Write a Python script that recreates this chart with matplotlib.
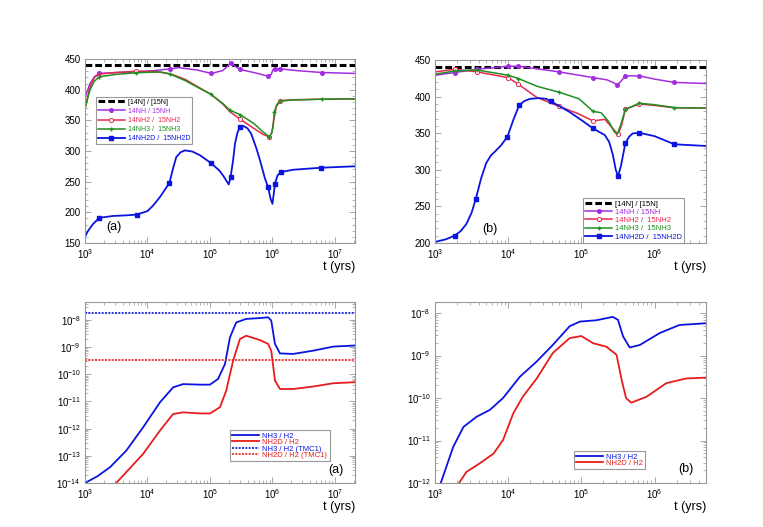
""" 14N/15N ratios and NH3, NH2D abundances vs time, two models """

import numpy as np
import matplotlib
matplotlib.use("Agg")
import matplotlib.pyplot as plt
from matplotlib.ticker import MultipleLocator, LogLocator, NullFormatter

plt.rcParams['font.family'] = ['Liberation Sans', 'DejaVu Sans']
plt.rcParams['mathtext.fontset'] = 'custom'
plt.rcParams['mathtext.rm'] = 'Liberation Sans'

# elemental ratio
ratio_elem = 440.

# ---- model (a): isotopic ratios, log10(t) and ratio values
a_nh_lt = [3.0, 3.08, 3.15, 3.23, 3.5, 3.82, 4.1, 4.36, 4.5, 4.8, 5.02, 5.2, 5.28, 5.33, 5.4, 5.48, 5.7, 5.93, 5.98, 6.01, 6.04, 6.12, 6.4, 6.79, 7.31]
a_nh = [387, 410, 421, 426.5, 428, 429, 431, 434, 436, 432, 426.5, 431, 438, 444, 438, 433, 428, 422, 425, 433, 434, 434, 431, 428, 426.5]
a_nh_mk = [3, 7, 10, 13, 15, 17, 20, 21, 23]

a_nh2_lt = [3.0, 3.08, 3.15, 3.23, 3.5, 3.82, 4.1, 4.36, 4.6, 4.8, 5.01, 5.2, 5.32, 5.48, 5.7, 5.85, 5.95, 5.99, 6.02, 6.06, 6.12, 6.3, 6.79, 7.31]
a_nh2 = [369, 405, 420, 425.5, 428, 430, 430, 426, 417, 405, 392.7, 377, 364, 352, 337, 327, 323, 330, 350, 372, 382, 383.5, 384.5, 385]
a_nh2_mk = [5, 13, 16, 20]

a_nh3_lt = [3.0, 3.08, 3.15, 3.23, 3.5, 3.82, 4.2, 4.36, 4.6, 4.8, 5.01, 5.2, 5.32, 5.48, 5.7, 5.85, 5.95, 5.99, 6.01, 6.03, 6.07, 6.12, 6.3, 6.79, 7.31]
a_nh3 = [369, 400, 414, 421, 425, 427.6, 429, 425.5, 415, 404, 392.7, 378, 366.5, 359.4, 345, 331, 323, 330, 340, 364, 376, 381, 383, 384.5, 385]
a_nh3_mk = [3, 5, 7, 10, 12, 13, 16, 19, 21, 23]

a_d_lt = [3.0, 3.05, 3.13, 3.23, 3.45, 3.66, 3.83, 4.0, 4.09, 4.2, 4.35, 4.41, 4.46, 4.53, 4.6, 4.72, 4.84, 5.02, 5.15, 5.21, 5.3, 5.33, 5.37, 5.4, 5.44, 5.48, 5.53, 5.6, 5.66, 5.74, 5.8, 5.88, 5.93, 5.97, 6.0, 6.04, 6.08, 6.13, 6.33, 6.78, 7.31]
a_d = [160, 170, 181, 191, 194, 195, 196.3, 202, 211, 225, 247.6, 272, 290, 298, 301, 299, 293, 280, 268, 260, 245.4, 257.4, 285, 312, 330, 339, 341, 337, 328, 305, 285, 255, 241, 222, 213.8, 246.5, 260, 265.6, 269.4, 272.7, 275]
a_d_mk = [3, 6, 10, 17, 21, 25, 32, 35, 37, 39]

# ---- model (b): isotopic ratios
b_nh_lt = [3.0, 3.27, 3.57, 4.0, 4.14, 4.4, 4.7, 5.16, 5.35, 5.43, 5.49, 5.54, 5.6, 5.79, 6.0, 6.27, 6.7]
b_nh = [429.3, 433, 437.4, 441.5, 441.5, 438, 433.8, 426, 423, 419.4, 416.3, 421, 428.4, 428.4, 424, 419.4, 418]
b_nh_mk = [1, 2, 3, 4, 6, 7, 10, 12, 13, 15]

b_nh2_lt = [3.0, 3.27, 3.57, 4.0, 4.14, 4.39, 4.7, 4.95, 5.16, 5.32, 5.41, 5.5, 5.55, 5.6, 5.79, 6.0, 6.27, 6.7]
b_nh2 = [433.8, 437.4, 434, 426, 417, 399, 386.6, 377, 366.8, 369, 358.7, 348.4, 361, 382.6, 390, 388, 384.8, 384.4]
b_nh2_mk = [1, 2, 3, 4, 6, 8, 11, 13, 14]

b_nh3_lt = [3.0, 3.27, 3.57, 4.0, 4.14, 4.4, 4.7, 4.97, 5.16, 5.27, 5.38, 5.45, 5.49, 5.54, 5.6, 5.79, 6.0, 6.27, 6.7]
b_nh3 = [430.7, 435, 436.5, 429.3, 424.8, 414, 406, 397, 379.9, 378, 365, 352, 348.4, 362, 382.6, 391, 389, 385, 384.4]
b_nh3_mk = [1, 2, 3, 4, 6, 8, 14, 15, 17]

b_d_lt = [3.0, 3.15, 3.27, 3.35, 3.43, 3.5, 3.56, 3.63, 3.7, 3.76, 3.82, 3.9, 3.99, 4.07, 4.15, 4.22, 4.3, 4.42, 4.52, 4.58, 4.7, 4.84, 5.0, 5.16, 5.32, 5.38, 5.43, 5.47, 5.5, 5.54, 5.6, 5.65, 5.7, 5.79, 6.0, 6.27, 6.7]
b_d = [201.3, 205, 210, 216, 226, 241, 260.7, 288, 309, 319, 325, 333, 345.2, 368, 388, 394, 397, 398, 397, 393.8, 387, 379, 368, 356.5, 347.5, 338, 320.5, 300, 291.3, 305, 336, 345, 349.7, 350.6, 346, 334.9, 332.6]
b_d_mk = [2, 6, 12, 14, 19, 23, 28, 30, 33, 35]

# ---- abundances relative to H2, log10 values
a_ab_lt = [3.0, 3.2, 3.4, 3.66, 3.93, 4.2, 4.41, 4.57, 4.84, 5.0, 5.13, 5.24, 5.32, 5.42, 5.58, 5.8, 5.93, 5.98, 6.04, 6.12, 6.33, 6.65, 6.97, 7.31]
a_nh3_ab = [-14.0, -13.75, -13.42, -12.81, -11.95, -11.03, -10.48, -10.36, -10.38, -10.38, -10.17, -9.62, -8.64, -8.09, -7.96, -7.93, -7.9, -8.02, -8.88, -9.23, -9.25, -9.13, -8.98, -8.94]
a_d_ab_lt = [3.5, 3.66, 3.93, 4.2, 4.41, 4.57, 4.84, 5.0, 5.16, 5.26, 5.37, 5.48, 5.58, 5.8, 5.93, 5.98, 6.04, 6.12, 6.33, 6.65, 6.97, 7.31]
a_nh2d_ab = [-14.0, -13.6, -12.93, -12.07, -11.46, -11.4, -11.44, -11.44, -11.21, -10.6, -9.5, -8.7, -8.58, -8.74, -8.88, -9.13, -10.23, -10.54, -10.54, -10.45, -10.33, -10.29]
tmc1_nh3 = 1.8e-8
tmc1_nh2d = 3.5e-10

b_ab_lt = [3.08, 3.25, 3.39, 3.57, 3.75, 3.93, 4.16, 4.39, 4.61, 4.84, 4.98, 5.2, 5.43, 5.5, 5.57, 5.66, 5.8, 6.07, 6.34, 6.7]
b_nh3_ab = [-12.0, -11.15, -10.68, -10.44, -10.28, -10.0, -9.5, -9.14, -8.75, -8.31, -8.2, -8.17, -8.09, -8.16, -8.55, -8.81, -8.75, -8.47, -8.28, -8.24]
b_d_ab_lt = [3.33, 3.43, 3.61, 3.8, 3.93, 4.07, 4.2, 4.39, 4.61, 4.84, 5.0, 5.16, 5.34, 5.48, 5.55, 5.61, 5.68, 5.89, 6.16, 6.43, 6.7]
b_nh2d_ab = [-12.0, -11.74, -11.54, -11.31, -10.99, -10.36, -9.97, -9.54, -8.94, -8.59, -8.54, -8.71, -8.79, -8.98, -9.57, -10.0, -10.11, -9.97, -9.65, -9.54, -9.52]

c_nh = '#a22ee0'
c_nh2 = '#e8284e'
c_nh3 = '#1f8f1f'
c_d = '#0a14e0'
c_red = '#e81c1c'
frame = '#999999'

fig = plt.figure(figsize=(7.63, 5.27), dpi=100)
ax1 = fig.add_axes([0.1114, 0.539, 0.354, 0.349])
ax2 = fig.add_axes([0.570, 0.539, 0.355, 0.347])
ax3 = fig.add_axes([0.1114, 0.0835, 0.354, 0.343])
ax4 = fig.add_axes([0.570, 0.0835, 0.355, 0.343])


def style(ax, logy=False):
    ax.set_xscale('log')
    ax.xaxis.set_major_locator(LogLocator(base=10, numticks=10))
    ax.xaxis.set_minor_locator(LogLocator(base=10, subs=np.arange(2, 10), numticks=10))
    ax.xaxis.set_minor_formatter(NullFormatter())
    if logy:
        ax.set_yscale('log')
        ax.yaxis.set_major_locator(LogLocator(base=10, numticks=20))
        ax.yaxis.set_minor_locator(LogLocator(base=10, subs=np.arange(2, 10), numticks=20))
        ax.yaxis.set_minor_formatter(NullFormatter())
    else:
        ax.yaxis.set_major_locator(MultipleLocator(50))
        ax.yaxis.set_minor_locator(MultipleLocator(10))
    ax.tick_params(which='both', direction='in', top=True, right=True,
                   color=frame, labelsize=7, pad=3)
    ax.tick_params(which='major', length=4, width=0.6)
    ax.tick_params(which='minor', length=2, width=0.5)
    for s in ax.spines.values():
        s.set_color(frame)
        s.set_linewidth(0.8)
    ax.set_xlabel('t (yrs)', fontsize=9, loc='right', labelpad=0)


def make_legend(ax, loc, box, size, space, colors):
    leg = ax.legend(loc=loc, bbox_to_anchor=box, fontsize=size,
                    handlelength=27 / (size * 100 / 72), handletextpad=0.4,
                    labelspacing=space, borderpad=0.3, borderaxespad=0,
                    fancybox=False, edgecolor=frame, framealpha=1)
    leg.get_frame().set_linewidth(0.8)
    for txt, col in zip(leg.get_texts(), colors):
        txt.set_color(col)


def ratio_panel(ax, nh, nh2, nh3, d, xmax, ymin, tag, tagpos, legloc, legbox, size, space):
    ax.axhline(ratio_elem, c='k', ls=(0, (2.2, 1.0)), lw=2.2, label='[14N] / [15N]')
    ax.plot(10**np.array(nh[0]), nh[1], c=c_nh, lw=1.1, marker='o', ms=2.6,
            markevery=nh[2], label='14NH / 15NH')
    ax.plot(10**np.array(nh2[0]), nh2[1], c=c_nh2, lw=1.1, marker='o', ms=3,
            mfc='white', mew=0.7, markevery=nh2[2], label='14NH2 /  15NH2')
    ax.plot(10**np.array(nh3[0]), nh3[1], c=c_nh3, lw=1.1, marker='+', ms=3.5,
            mew=1.0, markevery=nh3[2], label='14NH3 /  15NH3')
    ax.plot(10**np.array(d[0]), d[1], c=c_d, lw=1.3, marker='s', ms=3,
            markevery=d[2], label='14NH2D /  15NH2D')
    ax.set_xlim(1e3, xmax)
    ax.set_ylim(ymin, 450)
    ax.text(tagpos[0], tagpos[1], tag, transform=ax.transAxes, fontsize=9)
    make_legend(ax, legloc, legbox, size, space, ['k', c_nh, c_nh2, c_nh3, c_d])


style(ax1)
ratio_panel(ax1, (a_nh_lt, a_nh, a_nh_mk), (a_nh2_lt, a_nh2, a_nh2_mk),
            (a_nh3_lt, a_nh3, a_nh3_mk), (a_d_lt, a_d, a_d_mk),
            2.1e7, 150, '(a)', (0.08, 0.07), 'upper left', (0.04, 0.795), 5.0, 0.3)

style(ax2)
ratio_panel(ax2, (b_nh_lt, b_nh, b_nh_mk), (b_nh2_lt, b_nh2, b_nh2_mk),
            (b_nh3_lt, b_nh3, b_nh3_mk), (b_d_lt, b_d, b_d_mk),
            5e6, 200, '(b)', (0.175, 0.06), 'lower left', (0.546, 0.0), 5.5, 0.12)

# abundances (a)
style(ax3, logy=True)
ax3.plot(10**np.array(a_ab_lt), 10**np.array(a_nh3_ab), c=c_d, lw=1.3, label='NH3 / H2')
ax3.plot(10**np.array(a_d_ab_lt), 10**np.array(a_nh2d_ab), c=c_red, lw=1.3, label='NH2D / H2')
ax3.axhline(tmc1_nh3, c=c_d, ls=(0, (1.2, 0.8)), lw=1.2, label='NH3 / H2 (TMC1)')
ax3.axhline(tmc1_nh2d, c=c_red, ls=(0, (1.2, 0.8)), lw=1.2, label='NH2D / H2 (TMC1)')
ax3.set_xlim(1e3, 2.1e7)
ax3.set_ylim(1e-14, 4.5e-8)
ax3.text(0.9, 0.055, '(a)', transform=ax3.transAxes, fontsize=9)
make_legend(ax3, 'upper left', (0.537, 0.293), 5.5, -0.12, [c_d, c_red, c_d, c_red])

# abundances (b)
style(ax4, logy=True)
ax4.plot(10**np.array(b_ab_lt), 10**np.array(b_nh3_ab), c=c_d, lw=1.3, label='NH3 / H2')
ax4.plot(10**np.array(b_d_ab_lt), 10**np.array(b_nh2d_ab), c=c_red, lw=1.3, label='NH2D / H2')
ax4.set_xlim(1e3, 5e6)
ax4.set_ylim(1e-12, 1.8e-8)
ax4.text(0.9, 0.06, '(b)', transform=ax4.transAxes, fontsize=9)
make_legend(ax4, 'upper left', (0.513, 0.177), 5.5, -0.12, [c_d, c_red])

plt.savefig('out.png', dpi=100)
